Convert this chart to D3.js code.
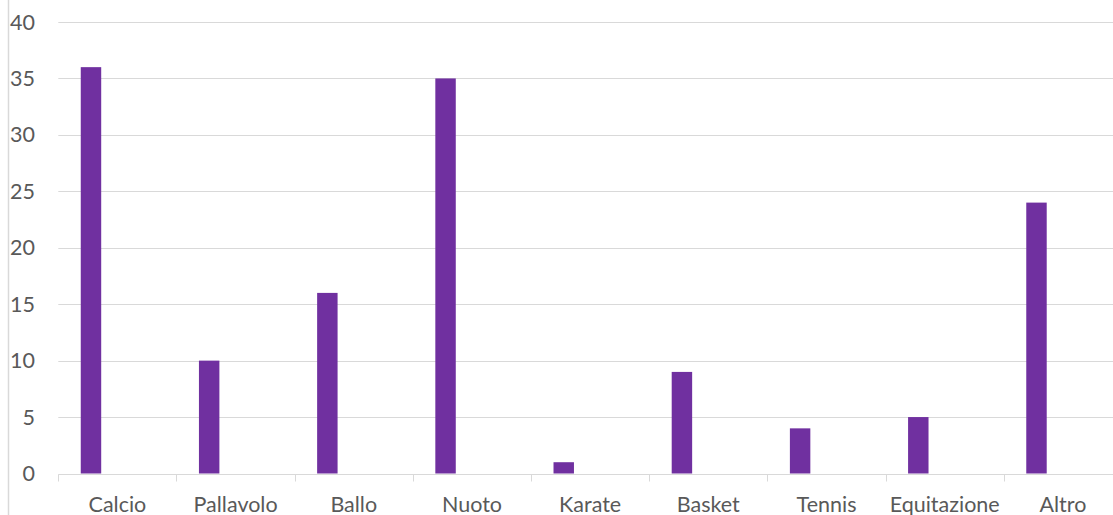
<!DOCTYPE html>
<html><head><meta charset="utf-8">
<script src="https://cdn.jsdelivr.net/npm/d3@7"></script>
<style>html,body{margin:0;padding:0;background:#fff;overflow:hidden}</style>
</head><body>
<svg id="c" width="1113" height="515"></svg>
<script>
const categories = ["Calcio","Pallavolo","Ballo","Nuoto","Karate","Basket","Tennis","Equitazione","Altro"];
const values = [36, 10, 16, 35, 1, 9, 4, 5, 24];
const yTicks = [0,5,10,15,20,25,30,35,40];

(function(){
const svg = d3.select("#c");
const font = "Lato, 'Open Sans', sans-serif";
const mLeft = 58.3, mRight = 1122, mTop = 22, mBottom = 473.5;

svg.append("line").attr("x1",8.5).attr("x2",8.5).attr("y1",0).attr("y2",515)
  .attr("stroke","#d9d9d9").attr("stroke-width",1.5);

const x = d3.scaleBand().domain(categories).range([mLeft, mRight]).paddingInner(0).paddingOuter(0);
const y = d3.scaleLinear().domain([0, 40]).range([mBottom, mTop]);

svg.append("g").selectAll("line").data(yTicks.filter(t=>t>0)).join("line")
  .attr("x1", mLeft).attr("x2", 1113)
  .attr("y1", d=>Math.round(y(d))+0.5).attr("y2", d=>Math.round(y(d))+0.5)
  .attr("stroke","#d9d9d9").attr("stroke-width",1);

svg.append("g").selectAll("text").data(yTicks).join("text")
  .attr("x", 35).attr("y", d=>y(d)).attr("dy","0.35em")
  .attr("text-anchor","end").attr("font-family",font).attr("font-size",21.5)
  .attr("fill","#595959").text(d=>d);

const bw = x.bandwidth();
svg.append("g").selectAll("rect").data(values).join("rect")
  .attr("x", (d,i)=>x(categories[i]) + bw*0.19)
  .attr("width", bw*0.173)
  .attr("y", d=>y(d)).attr("height", d=>y(0)-y(d))
  .attr("fill","#7030a0");

const xa = svg.append("g").attr("transform",`translate(0,${Math.round(y(0))+0.5})`);
xa.append("line").attr("x1",mLeft).attr("x2",1113).attr("stroke","#d9d9d9").attr("stroke-width",1);
xa.selectAll("line.tick").data(categories.concat(["_end"])).join("line").attr("class","tick")
  .attr("x1",(d,i)=>Math.round(mLeft + i*bw)+0.5).attr("x2",(d,i)=>Math.round(mLeft + i*bw)+0.5)
  .attr("y1",0).attr("y2",7).attr("stroke","#d9d9d9");
xa.selectAll("text").data(categories).join("text")
  .attr("x", d=>x(d)+bw/2).attr("y", 37)
  .attr("text-anchor","middle").attr("font-family",font).attr("font-size",21.5)
  .attr("fill","#595959").text(d=>d);
})();
</script>
</body></html>
